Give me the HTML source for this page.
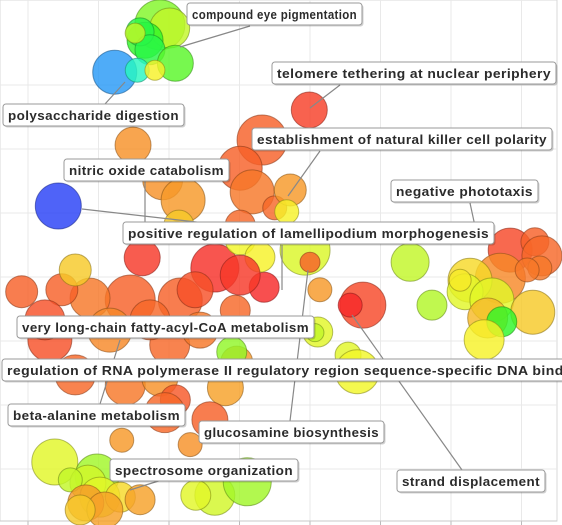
<!DOCTYPE html>
<html><head><meta charset="utf-8">
<style>
html,body{margin:0;padding:0;background:#fff;}
svg{display:block;}
.lbl text{font-family:"Liberation Sans",sans-serif;font-weight:bold;font-size:13px;fill:#2b2b2b;letter-spacing:0.4px;}
</style></head>
<body>
<svg id="chart" width="562" height="525" viewBox="0 0 562 525">
<g id="grid"></g>
<g id="bubbles"></g>
<g id="leaders"></g>
<g id="labels"></g>
</svg>
<script>
// semantic coordinates (grid units), radius, and significance-color value (0=blue ... 1=red)
const bubbleX = [1.87,2.01,1.66,1.59,1.73,2.09,1.23,1.55,1.80,1.52,0.43,1.49,1.91,2.20,2.14,3.32,3.01,3.18,3.50,3.99,3.72,3.67,3.01,1.62,2.65,3.35,2.16,1.45,0.88,-0.09,0.48,0.67,0.31,1.16,2.01,2.44,2.94,3.01,3.29,3.93,4.00,4.14,4.75,4.57,4.11,4.07,4.54,4.67,5.42,5.73,6.84,7.19,7.29,6.70,6.27,6.20,6.58,7.16,6.52,6.13,6.72,6.47,7.26,7.08,0.67,1.38,1.87,2.09,2.80,2.96,2.89,2.58,1.94,1.33,2.30,0.38,0.98,0.85,0.60,1.02,0.82,1.31,1.09,0.74,2.65,3.11,2.38,1.59,3.01,2.37,1.73,0.24];
const bubbleY = [6.94,6.89,6.70,6.83,6.55,6.34,6.20,6.23,6.23,6.81,4.11,5.06,4.52,4.20,3.81,5.14,4.70,4.33,4.08,5.61,4.36,4.02,3.81,3.30,3.14,2.84,2.64,2.64,2.67,2.77,2.80,3.11,2.02,2.17,1.94,2.17,2.48,3.58,3.31,3.42,3.23,2.80,2.56,2.56,2.14,2.13,1.78,1.52,3.23,2.56,3.42,3.55,3.33,2.98,2.95,2.77,2.64,2.45,2.36,2.95,2.30,2.02,3.14,3.11,1.47,1.31,1.42,1.08,1.27,1.67,1.83,0.77,0.88,0.45,0.38,0.11,-0.11,-0.22,-0.17,-0.44,-0.53,-0.44,-0.64,-0.64,-0.41,-0.20,-0.41,-0.48,3.03,2.80,2.33,2.33];
const bubbleSize = [25,20,18,14,15,18,22,12,10,10,23,18,20,22,15,25,22,22,12,18,16,12,15,18,24,15,22,25,20,16,16,16,22,22,20,18,15,15,15,25,10,12,23,12,15,9,13,22,19,15,22,14,20,25,22,18,22,22,20,11,15,20,12,12,20,20,18,15,18,16,15,18,20,12,12,23,22,18,12,20,18,15,18,15,20,24,15,15,20,18,20,20];
const bubbleColor = [0.6,0.68,0.5,0.45,0.45,0.55,0.12,0.3,0.75,0.68,0.01,0.87,0.87,0.86,0.8,0.93,0.93,0.9,0.92,0.97,0.86,0.75,0.92,0.98,0.99,1,0.93,0.93,0.9,0.93,0.93,0.8,0.95,0.88,0.92,0.9,0.92,0.74,0.75,0.71,0.93,0.86,0.96,1,0.72,0.68,0.72,0.74,0.68,0.66,0.96,0.93,0.92,0.88,0.78,0.72,0.72,0.8,0.82,0.76,0.5,0.75,0.9,0.9,0.92,0.9,0.87,0.94,0.85,0.86,0.62,0.93,0.92,0.86,0.87,0.72,0.64,0.7,0.68,0.72,0.86,0.78,0.85,0.8,0.7,0.64,0.72,0.85,0.98,0.95,0.92,0.95];
const gridX = [0,1,2,3,4,5,6,7];
const gridY = [0,1,2,3,4,5,6];

const xScale = v => 28 + v*70.5;
const yScale = v => 469 - v*64;
const NS = "http://www.w3.org/2000/svg";
function hueOf(c){ return 235*(1-c); }

const grid = document.getElementById('grid');
const bg = document.createElementNS(NS,'rect');
bg.setAttribute('x',0);bg.setAttribute('y',0);bg.setAttribute('width',557);bg.setAttribute('height',521);
bg.setAttribute('fill','#fff');bg.setAttribute('stroke','#d8d8d8');


grid.appendChild(bg);
gridX.forEach(g=>{
  const l=document.createElementNS(NS,'line');
  const x=xScale(g);
  l.setAttribute('x1',x);l.setAttribute('x2',x);l.setAttribute('y1',0);l.setAttribute('y2',521);
  l.setAttribute('stroke','#e9e9e9');
  
  
  grid.appendChild(l);
  const t=document.createElementNS(NS,'line');
  t.setAttribute('x1',x);t.setAttribute('x2',x);t.setAttribute('y1',521);t.setAttribute('y2',525);
  t.setAttribute('stroke','#bbb');
  
  
  grid.appendChild(t);
});
gridY.forEach(g=>{
  const l=document.createElementNS(NS,'line');
  const y=yScale(g);
  l.setAttribute('x1',0);l.setAttribute('x2',557);l.setAttribute('y1',y);l.setAttribute('y2',y);
  l.setAttribute('stroke','#e9e9e9');
  
  
  grid.appendChild(l);
});
const axis=document.createElementNS(NS,'line');
axis.setAttribute('x1',0);axis.setAttribute('x2',557);axis.setAttribute('y1',521);axis.setAttribute('y2',521);
axis.setAttribute('stroke','#c8c8c8');


grid.appendChild(axis);

const bubbles=document.getElementById('bubbles');
bubbleX.forEach((bx,i)=>{
  const c=document.createElementNS(NS,'circle');
  const h=hueOf(bubbleColor[i]);
  c.setAttribute('cx',xScale(bx));c.setAttribute('cy',yScale(bubbleY[i]));c.setAttribute('r',bubbleSize[i]);
  c.setAttribute('fill','hsla('+h+',92%,56%,0.82)');
  c.setAttribute('stroke','hsl('+h+',70%,33%)');
  c.setAttribute('stroke-opacity','0.6');
  
  
  bubbles.appendChild(c);
});

const leaderLines=[[250,26,180,47],[340,85,310,108],[105,104,125,82],[320,151,288,196],[145,181,145,225],[82,209,205,223],[470,203,478,240],[308,270,290,421],[352,315,462,470],[100,404,120,340],[130,490,168,478],[282,245,282,290]];
const leaders=document.getElementById('leaders');
leaderLines.forEach(p=>{
  const l=document.createElementNS(NS,'line');
  l.setAttribute('x1',p[0]);l.setAttribute('y1',p[1]);l.setAttribute('x2',p[2]);l.setAttribute('y2',p[3]);
  l.setAttribute('stroke','#888');l.setAttribute('stroke-width','1.2');
  
  
  leaders.appendChild(l);
});

const labelText=["compound eye pigmentation","telomere tethering at nuclear periphery","polysaccharide digestion","establishment of natural killer cell polarity","nitric oxide catabolism","negative phototaxis","positive regulation of lamellipodium morphogenesis","very long-chain fatty-acyl-CoA metabolism","regulation of RNA polymerase II regulatory region sequence-specific DNA binding","beta-alanine metabolism","glucosamine biosynthesis","spectrosome organization","strand displacement"];
const labelBox=[[187,3,175],[272,62,284],[3,104,181],[252,128,300],[64,159,165],[391,180,147],[123,222,371],[17,316,297],[2,359,590],[8,404,177],[199,421,185],[110,459,188],[397,470,148]];
const labels=document.getElementById('labels');
labelText.forEach((txt,i)=>{
  const b=labelBox[i];
  const g=document.createElementNS(NS,'g');
  g.setAttribute('class','lbl');
  
  
  const sh=document.createElementNS(NS,'rect');
  sh.setAttribute('x',b[0]+1.5);sh.setAttribute('y',b[1]+1.5);sh.setAttribute('width',b[2]);sh.setAttribute('height',22);
  sh.setAttribute('rx',3);sh.setAttribute('fill','rgba(0,0,0,0.18)');
  g.appendChild(sh);
  const r=document.createElementNS(NS,'rect');
  r.setAttribute('x',b[0]);r.setAttribute('y',b[1]);r.setAttribute('width',b[2]);r.setAttribute('height',22);
  r.setAttribute('rx',3);r.setAttribute('fill','#fff');r.setAttribute('stroke','#9a9a9a');
  g.appendChild(r);
  const t=document.createElementNS(NS,'text');
  t.setAttribute('x',b[0]+5);t.setAttribute('y',b[1]+16);
  if(i!==8){t.setAttribute('textLength',b[2]-10);}
  else{t.setAttribute('textLength',579);}
  t.setAttribute('lengthAdjust','spacingAndGlyphs');
  if(i===0){t.setAttribute('letter-spacing','0');}
  t.textContent=txt;
  g.appendChild(t);
  labels.appendChild(g);
});
</script>
</body></html>
